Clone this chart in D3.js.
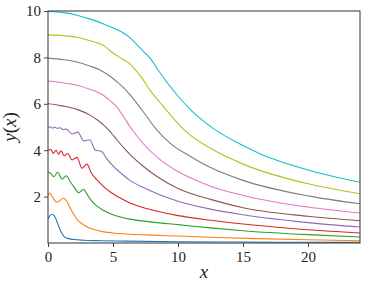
<!DOCTYPE html>
<html>
<head>
<meta charset="utf-8">
<script src="https://cdn.jsdelivr.net/npm/d3@7/dist/d3.min.js"></script>
<style>
html,body{margin:0;padding:0;background:#fff;}
svg{display:block;}
</style>
</head>
<body>
<svg id="chart" width="370" height="289"></svg>
<script>
// ---- data ----
const xTicks = [0, 5, 10, 15, 20];
const yTicks = [2, 4, 6, 8, 10];
const colors = ["#1f77b4","#ff7f0e","#2ca02c","#d62728","#9467bd","#8c564b","#e377c2","#7f7f7f","#bcbd22","#17becf"];

const s1 = [[0,1.03],[0.15,1.18],[0.36,1.24],[0.6,1.05],[0.82,0.72],[1.0,0.48],[1.2,0.3],[1.5,0.2],[2,0.15],[2.75,0.12],[4,0.1],[6,0.08],[10,0.055],[15,0.04],[20,0.03],[24,0.025]];
const s2 = [[0,2.05],[0.13,2.15],[0.35,1.98],[0.64,1.76],[0.9,1.82],[1.2,1.93],[1.45,1.8],[1.72,1.5],[2.0,1.22],[2.23,1.02],[2.6,0.84],[3.0,0.7],[3.6,0.57],[4.3,0.48],[5,0.43],[6.3,0.38],[8,0.34],[10,0.3],[13,0.24],[16,0.19],[20,0.14],[24,0.1]];
const s3 = [[0,3.05],[0.18,3.02],[0.44,2.86],[0.75,3.05],[1.08,2.75],[1.41,2.9],[1.7,2.65],[1.98,2.43],[2.36,2.17],[2.75,2.32],[3.0,2.1],[3.26,1.88],[3.7,1.62],[4.28,1.4],[5,1.22],[5.8,1.09],[6.3,1.03],[8,0.9],[10,0.79],[12.5,0.65],[15,0.53],[20,0.36],[24,0.26]];
const s4 = [[0,4.0],[0.23,4.03],[0.41,3.86],[0.62,4.0],[0.82,3.83],[1.0,3.97],[1.26,3.75],[1.52,3.86],[1.85,3.58],[2.23,3.69],[2.62,3.22],[3.0,3.40],[3.3,3.05],[3.77,2.72],[4.3,2.42],[4.8,2.2],[5.8,1.86],[6.3,1.72],[7.3,1.53],[8.5,1.36],[10,1.18],[12.5,0.98],[15,0.82],[20,0.57],[24,0.43]];
const s5 = [[0,5.0],[0.2,5.0],[0.35,4.95],[0.5,5.0],[0.7,4.94],[0.95,4.97],[1.15,4.89],[1.4,4.91],[1.85,4.7],[2.3,4.78],[2.75,4.4],[3.2,4.45],[3.65,4.0],[4.1,3.95],[4.5,3.65],[5.0,3.32],[5.8,2.92],[6.3,2.7],[7.3,2.4],[8.5,2.1],[10,1.8],[12.5,1.46],[15,1.22],[20,0.88],[24,0.69]];
const s6 = [[0,6.0],[0.5,5.97],[1.2,5.9],[2.23,5.76],[3.26,5.5],[3.8,5.3],[4.28,5.08],[4.75,4.82],[5.05,4.62],[5.8,4.12],[6.3,3.82],[7.3,3.32],[8.5,2.82],[10,2.35],[12.5,1.88],[15,1.52],[20,1.15],[24,0.96]];
const s7 = [[0,6.98],[1.2,6.9],[2.23,6.8],[3.26,6.62],[4.28,6.36],[4.75,6.15],[5.05,6.0],[5.3,5.86],[5.8,5.45],[6.3,5.02],[7.3,4.3],[8.5,3.65],[10,3.08],[10.9,2.82],[12.5,2.45],[15,2.05],[20,1.55],[24,1.29]];
const s8 = [[0,7.97],[1.2,7.9],[2.23,7.8],[3.26,7.62],[4.03,7.45],[4.75,7.2],[5.3,6.95],[5.8,6.7],[6.3,6.4],[7.3,5.68],[8.3,4.92],[9.5,4.25],[10.9,3.75],[12.5,3.25],[15,2.7],[20,2.03],[24,1.69]];
const s9 = [[0,8.97],[1.2,8.94],[2.23,8.87],[3.26,8.72],[4.28,8.51],[4.75,8.3],[5.5,8.0],[5.8,7.9],[6.3,7.72],[6.7,7.48],[7.3,7.05],[7.8,6.62],[8.85,5.9],[10.4,4.92],[10.9,4.67],[12.5,4.08],[15,3.4],[20,2.55],[24,2.12]];
const s10 = [[0,9.98],[1.2,9.93],[2.23,9.82],[3.26,9.65],[4.28,9.44],[4.75,9.33],[5.8,9.05],[6.3,8.85],[6.67,8.65],[7.4,8.22],[7.8,8.0],[8.6,7.35],[9.9,6.4],[10.9,5.78],[12.7,4.94],[15,4.2],[16.3,3.85],[20,3.15],[24,2.62]];
const seriesList = [s1,s2,s3,s4,s5,s6,s7,s8,s9,s10];

// ---- layout ----
const svg = d3.select("#chart");
const L = 48, R = 360, T = 11, B = 243;
const x = d3.scaleLinear().domain([0, 24]).range([L, R]);
const y = d3.scaleLinear().domain([0, 10]).range([B, T]);

svg.append("defs").append("clipPath").attr("id","clip")
  .append("rect").attr("x",L).attr("y",T).attr("width",R-L).attr("height",B-T);

const line = d3.line().x(d => x(d[0])).y(d => y(d[1])).curve(d3.curveMonotoneX);
const g = svg.append("g").attr("clip-path","url(#clip)");
seriesList.forEach((s, i) => {
  g.append("path").datum(s).attr("d", line)
    .attr("fill","none").attr("stroke", colors[i]).attr("stroke-width", 1.1);
});

const font = "Liberation Serif";
const xAxis = svg.append("g").attr("transform", `translate(0,${B})`)
  .call(d3.axisBottom(x).tickValues(xTicks).tickSize(4).tickPadding(4).tickFormat(d3.format("d")));
const yAxis = svg.append("g").attr("transform", `translate(${L},0)`)
  .call(d3.axisLeft(y).tickValues(yTicks).tickSize(4).tickPadding(3).tickFormat(d3.format("d")));
[xAxis, yAxis].forEach(a => {
  a.attr("font-family", font).attr("font-size", 15);
  a.select(".domain").remove();
  a.selectAll(".tick line").attr("stroke","#333").attr("stroke-width",0.9);
  a.selectAll(".tick text").attr("fill","#222");
});

svg.append("rect").attr("x",L).attr("y",T).attr("width",R-L).attr("height",B-T)
  .attr("fill","none").attr("stroke","#444").attr("stroke-width",1.1);

svg.append("text").attr("x",(L+R)/2).attr("y",278).attr("text-anchor","middle")
  .attr("font-family",font).attr("font-style","italic").attr("font-size",19).attr("fill","#222").text("x");
const yl = svg.append("text").attr("transform",`translate(16,${(T+B)/2}) rotate(-90)`).attr("text-anchor","middle")
  .attr("font-family",font).attr("font-size",19).attr("fill","#222");
yl.append("tspan").attr("font-style","italic").text("y");
yl.append("tspan").text("(");
yl.append("tspan").attr("font-style","italic").text("x");
yl.append("tspan").text(")");
</script>
</body>
</html>
